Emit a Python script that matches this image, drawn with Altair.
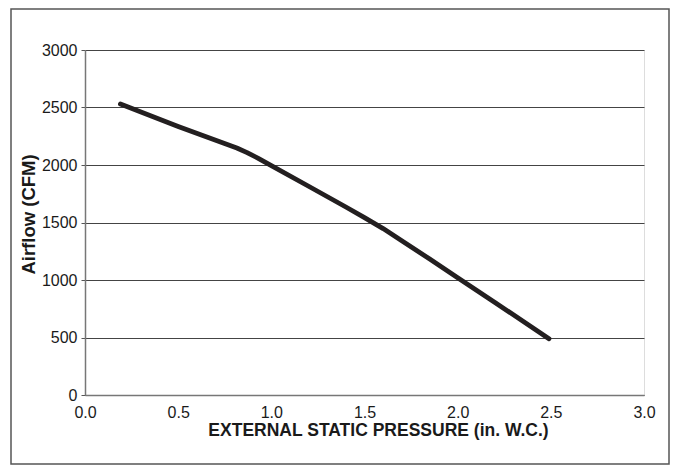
import altair as alt
import pandas as pd

pressure = [0.19, 0.5, 0.815, 0.87, 0.93, 1.0, 1.2, 1.4, 1.5, 1.6, 1.7, 1.85, 2.0, 2.2, 2.49]
airflow = [2530, 2335, 2148, 2108, 2058, 1995, 1815, 1635, 1543, 1447, 1342, 1182, 1020, 805, 490]

x_ticks = [0.0, 0.5, 1.0, 1.5, 2.0, 2.5, 3.0]
y_ticks = [0, 500, 1000, 1500, 2000, 2500, 3000]

df = pd.DataFrame({"p": pressure, "cfm": airflow})

FONT = "Liberation Sans"
INK = "#1a1a1a"

line = alt.Chart(df).mark_line(color="#231f20", strokeWidth=4.8, strokeCap="round",
                               strokeJoin="round").encode(
    x=alt.X("p:Q", scale=alt.Scale(domain=[0, 3], nice=False),
            axis=alt.Axis(values=x_ticks, format=".1f", title="EXTERNAL STATIC PRESSURE (in. W.C.)",
                          grid=False, ticks=False, labelPadding=9, labelFontSize=16,
                          labelFlush=False,
                          labelFont=FONT, labelColor=INK,
                          domainColor="#777777", domainWidth=1.5,
                          titleFont=FONT, titleFontSize=17.5, titleFontWeight="bold", titleColor=INK,
                          titleX=293, titleY=40, titleBaseline="alphabetic", titleAlign="center")),
    y=alt.Y("cfm:Q", scale=alt.Scale(domain=[0, 3000], nice=False),
            axis=alt.Axis(values=y_ticks, format="d", title="Airflow (CFM)",
                          grid=True, gridColor="#444444", gridWidth=1,
                          ticks=True, tickSize=4, tickColor="#555555",
                          labelPadding=4, labelFontSize=16, labelFont=FONT, labelColor=INK,
                          labelFlush=False,
                          domainColor="#777777", domainWidth=1.5,
                          titleFont=FONT, titleFontSize=18.5, titleFontWeight="bold", titleColor=INK,
                          titleAngle=-90, titleX=-51, titleY=164, titleBaseline="alphabetic",
                          titleAlign="center")),
)

frame = alt.Chart(pd.DataFrame({"a": [0]})).mark_rect(fill=None, stroke="#555555", strokeWidth=1.5).encode(
    x=alt.value(-74), x2=alt.value(584), y=alt.value(-41), y2=alt.value(414)
)

chart = alt.layer(frame, line).properties(
    width=559, height=345,
    autosize=alt.AutoSizeParams(type="none"),
    padding={"left": 77, "top": 42, "right": 26, "bottom": 70},
).configure_view(stroke="#777777", strokeWidth=1.5).configure(background="white")

chart.save("out.html", embed_options={"renderer": "svg", "actions": False})
